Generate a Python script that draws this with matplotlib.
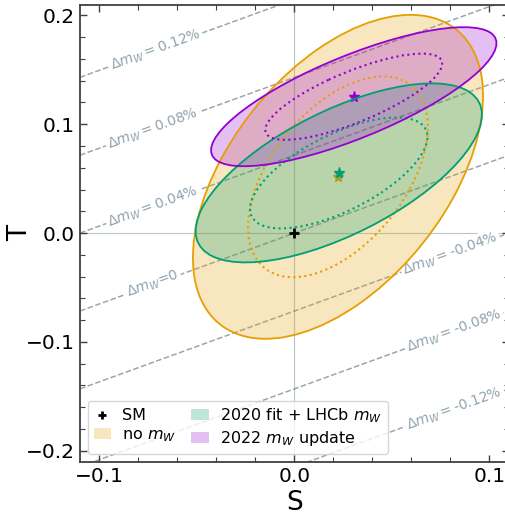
import numpy as np
import matplotlib
matplotlib.use("Agg")
import matplotlib.pyplot as plt
from matplotlib.patches import Ellipse, Patch
from matplotlib.lines import Line2D
from matplotlib.ticker import MultipleLocator

# ---------------- data ----------------
fit_labels = [r"no $m_W$", r"2020 fit + LHCb $m_W$", r"2022 $m_W$ update"]
fit_colors = ["#E69F00", "#009E73", "#9400D3"]
S_center = [0.0223, 0.0227, 0.0304]
T_center = [0.0517, 0.0553, 0.1253]
sigma_S = [0.0304, 0.0300, 0.0299]
sigma_T = [0.0608, 0.0336, 0.0261]
rho_ST = [0.50, 0.65, 0.77]
chi2_levels = [2.30, 5.99]          # 68% (dotted), 95% (solid)

dmw_percent = [-0.12, -0.08, -0.04, 0.0, 0.04, 0.08, 0.12]
dmw_text = ["-0.12%", "-0.08%", "-0.04%", "0", "0.04%", "0.08%", "0.12%"]
dmw_label_S = [0.082, 0.082, 0.080, -0.0725, -0.0725, -0.0727, -0.0712]

sw2 = 0.2312
alpha_em = 1 / 127.9

SM_point = (0.0, 0.0)

xticks = [-0.1, 0.0, 0.1]
yticks = [-0.2, -0.1, 0.0, 0.1, 0.2]

# ---------------- figure ----------------
fig = plt.figure(figsize=(5.05, 5.14), dpi=100)
ax = fig.add_axes([0.1584, 0.1018, 0.8495, 0.8894])
ax.set_xlim(-0.11, 0.11)
ax.set_ylim(-0.21, 0.21)

ax.axhline(0, color="#b8c6ca", lw=0.8, zorder=0.5)
ax.axvline(0, color="#b8c6ca", lw=0.8, zorder=0.5)

# Delta m_W lines: dm/m = alpha/(2(c2-s2)) * (-S/2 + c2 T)
cw2 = 1 - sw2
kfac = alpha_em / (2 * (cw2 - sw2))
Sgrid = np.linspace(-0.11, 0.11, 50)
slope = 1 / (2 * cw2)
p0 = ax.transData.transform((0, 0))
p1 = ax.transData.transform((0.1, 0.1 * slope))
angle = np.degrees(np.arctan2(p1[1] - p0[1], p1[0] - p0[0]))
for d, txt, sl in zip(dmw_percent, dmw_text, dmw_label_S):
    T_line = (Sgrid / 2 + (d / 100) / kfac) / cw2
    ax.plot(Sgrid, T_line, ls="--", color="slategray", alpha=0.7, lw=1.1, zorder=1)
    Tl = (sl / 2 + (d / 100) / kfac) / cw2
    if txt == "0":
        s = r"$\Delta m_W$=0"
    else:
        s = r"$\Delta m_W = $" + txt
    ax.text(sl, Tl, s, rotation=angle, rotation_mode="anchor", ha="center", va="center",
            fontsize=10, color="#8fa3ad", zorder=1.5,
            bbox=dict(facecolor="white", edgecolor="none", pad=1.5))

def ell(cx, cy, sx, sy, r, k, **kw):
    cov = np.array([[sx**2, r * sx * sy], [r * sx * sy, sy**2]])
    vals, vecs = np.linalg.eigh(cov)
    w = 2 * np.sqrt(k * vals[1])
    h = 2 * np.sqrt(k * vals[0])
    ang = np.degrees(np.arctan2(vecs[1, 1], vecs[0, 1]))
    return Ellipse((cx, cy), w, h, angle=ang, **kw)

for i in range(3):
    c = fit_colors[i]
    ax.add_patch(ell(S_center[i], T_center[i], sigma_S[i], sigma_T[i], rho_ST[i], chi2_levels[1],
                     facecolor=c, alpha=0.25, edgecolor="none", zorder=2 + i * 0.1))
    ax.add_patch(ell(S_center[i], T_center[i], sigma_S[i], sigma_T[i], rho_ST[i], chi2_levels[1],
                     facecolor="none", edgecolor=c, lw=1.3, zorder=3))
    ax.add_patch(ell(S_center[i], T_center[i], sigma_S[i], sigma_T[i], rho_ST[i], chi2_levels[0],
                     facecolor="none", edgecolor=c, lw=1.5, ls=":", zorder=3))
    ax.plot(S_center[i], T_center[i], marker="*", color=c, ms=8, ls="none", zorder=2.05 + i * 0.1)

ax.plot(*SM_point, marker="+", color="black", ms=7, mew=2, ls="none", zorder=5)

ax.set_xticks(xticks)
ax.set_yticks(yticks)
ax.set_xticklabels(["\u22120.1", "0.0", "0.1"])
ax.set_yticklabels(["\u22120.2", "\u22120.1", "0.0", "0.1", "0.2"])
ax.xaxis.set_minor_locator(MultipleLocator(0.02))
ax.yaxis.set_minor_locator(MultipleLocator(0.02))
ax.tick_params(which="both", direction="in", top=True, right=True, labelsize=14.5, color="0.25")
ax.tick_params(which="major", length=5, width=1)
ax.tick_params(which="minor", length=3.5, width=0.8)
for sp in ax.spines.values():
    sp.set_color("0.25")
    sp.set_linewidth(1.3)
ax.set_xlabel("S", fontsize=19)
ax.set_ylabel("T", fontsize=19)
ax.xaxis.set_label_coords(0.5, -0.061)
ax.yaxis.set_label_coords(-0.11, 0.5)

handles = [
    Line2D([], [], marker="+", color="black", ms=6, mew=2, ls="none"),
    Patch(facecolor=fit_colors[0], alpha=0.25, edgecolor="none"),
    Patch(facecolor=fit_colors[1], alpha=0.25, edgecolor="none"),
    Patch(facecolor=fit_colors[2], alpha=0.25, edgecolor="none"),
]
labels = ["SM", fit_labels[0], fit_labels[1], fit_labels[2]]
ax.legend(handles, labels, loc="lower left", ncol=2, fontsize=11.5, handlelength=1.1,
          handletextpad=0.7, columnspacing=0.95, borderaxespad=0.5,
          labelspacing=0.25, borderpad=0.35)

fig.savefig("out.png", dpi=100)
